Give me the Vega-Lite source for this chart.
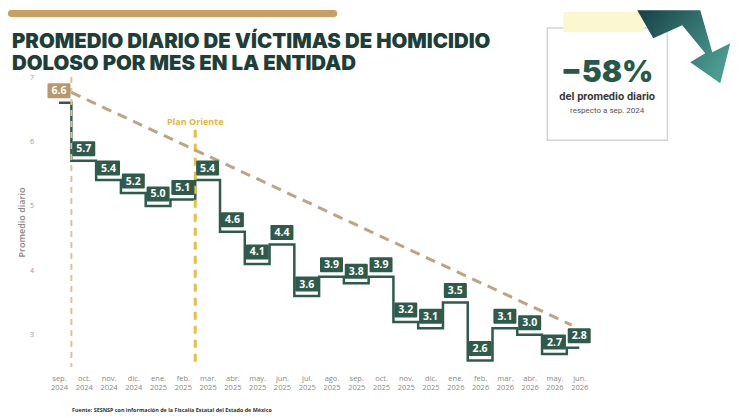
{
  "$schema": "https://vega.github.io/schema/vega-lite/v6.json",
  "width": 545,
  "height": 290,
  "autosize": {"type": "none"},
  "padding": {"left": 46.6, "top": 77, "right": 158.4, "bottom": 51},
  "background": "white",
  "config": {"view": {"stroke": null}, "font": "Open Sans"},
  "datasets": {
    "victimas": [
      {"i": 0, "mes": "sep. 2024", "valor": 6.6},
      {"i": 1, "mes": "oct. 2024", "valor": 5.7},
      {"i": 2, "mes": "nov. 2024", "valor": 5.4},
      {"i": 3, "mes": "dic. 2024", "valor": 5.2},
      {"i": 4, "mes": "ene. 2025", "valor": 5.0},
      {"i": 5, "mes": "feb. 2025", "valor": 5.1},
      {"i": 6, "mes": "mar. 2025", "valor": 5.4},
      {"i": 7, "mes": "abr. 2025", "valor": 4.6},
      {"i": 8, "mes": "may. 2025", "valor": 4.1},
      {"i": 9, "mes": "jun. 2025", "valor": 4.4},
      {"i": 10, "mes": "jul. 2025", "valor": 3.6},
      {"i": 11, "mes": "ago. 2025", "valor": 3.9},
      {"i": 12, "mes": "sep. 2025", "valor": 3.8},
      {"i": 13, "mes": "oct. 2025", "valor": 3.9},
      {"i": 14, "mes": "nov. 2025", "valor": 3.2},
      {"i": 15, "mes": "dic. 2025", "valor": 3.1},
      {"i": 16, "mes": "ene. 2026", "valor": 3.5},
      {"i": 17, "mes": "feb. 2026", "valor": 2.6},
      {"i": 18, "mes": "mar. 2026", "valor": 3.1},
      {"i": 19, "mes": "abr. 2026", "valor": 3.0},
      {"i": 20, "mes": "may. 2026", "valor": 2.7},
      {"i": 21, "mes": "jun. 2026", "valor": 2.8}
    ],
    "tendencia": [
      {"i": 0.5, "valor": 6.76},
      {"i": 20.7, "valor": 3.15}
    ],
    "titulo": [
      {"x": -1.9, "y": 7.45, "texto": "PROMEDIO DIARIO DE VÍCTIMAS DE HOMICIDIO"},
      {"x": -1.9, "y": 7.11, "texto": "DOLOSO POR MES EN LA ENTIDAD"}
    ]
  },
  "layer": [
    {
      "data": {"name": "victimas"},
      "mark": {"type": "line", "interpolate": "step", "color": "#2f5b4c", "strokeWidth": 2.5},
      "encoding": {
        "x": {
          "field": "i",
          "type": "quantitative",
          "title": null,
          "scale": {"domain": [-0.5, 21.5], "nice": false, "zero": false},
          "axis": {
            "title": null,
            "values": [0, 1, 2, 3, 4, 5, 6, 7, 8, 9, 10, 11, 12, 13, 14, 15, 16, 17, 18, 19, 20, 21],
            "tickCount": 30,
            "labelExpr": "split(['sep. 2024','oct. 2024','nov. 2024','dic. 2024','ene. 2025','feb. 2025','mar. 2025','abr. 2025','may. 2025','jun. 2025','jul. 2025','ago. 2025','sep. 2025','oct. 2025','nov. 2025','dic. 2025','ene. 2026','feb. 2026','mar. 2026','abr. 2026','may. 2026','jun. 2026'][datum.value], ' ')",
            "domain": false,
            "ticks": false,
            "grid": false,
            "labelFontSize": 7.5,
            "labelColor": "#8a8a8a",
            "labelPadding": 7,
            "labelLineHeight": 9,
            "labelBaseline": "top",
            "labelFlush": false,
            "labelOverlap": false
          }
        },
        "y": {
          "field": "valor",
          "type": "quantitative",
          "title": "Promedio diario",
          "scale": {"domain": [2.5, 7], "nice": false, "zero": false},
          "axis": {
            "title": "Promedio diario",
            "values": [3, 4, 5, 6, 7],
            "format": "d",
            "domain": false,
            "ticks": false,
            "grid": false,
            "labelFontSize": 7,
            "labelColor": "#999999",
            "labelPadding": 13,
            "titleFontSize": 9,
            "titleFontWeight": 600,
            "titleColor": "#8a8a8a",
            "titlePadding": 3
          }
        }
      }
    },
    {
      "data": {"values": [{"x": -2.06, "x2": 11.23, "y": 8.04, "y2": 7.93}]},
      "mark": {"type": "rect", "fill": "#c9a062", "cornerRadius": 3},
      "encoding": {
        "x": {"field": "x", "type": "quantitative", "scale": {"domain": [-0.5, 21.5], "nice": false, "zero": false}},
        "x2": {"field": "x2"},
        "y": {"field": "y", "type": "quantitative", "scale": {"domain": [2.5, 7], "nice": false, "zero": false}},
        "y2": {"field": "y2"}
      }
    },
    {
      "data": {"name": "titulo"},
      "mark": {"type": "text", "font": "Inter", "fontWeight": 900, "fontSize": 20.4, "color": "#1d3f37", "align": "left", "baseline": "alphabetic"},
      "encoding": {
        "x": {"field": "x", "type": "quantitative", "scale": {"domain": [-0.5, 21.5], "nice": false, "zero": false}},
        "y": {"field": "y", "type": "quantitative", "scale": {"domain": [2.5, 7], "nice": false, "zero": false}},
        "text": {"field": "texto"}
      }
    },
    {
      "data": {"values": [{"x": 19.71, "x2": 24.56, "y": 7.76, "y2": 6.02}]},
      "mark": {"type": "rect", "fill": "white", "stroke": "#d4d4d4", "strokeWidth": 1.5},
      "encoding": {
        "x": {"field": "x", "type": "quantitative", "scale": {"domain": [-0.5, 21.5], "nice": false, "zero": false}},
        "x2": {"field": "x2"},
        "y": {"field": "y", "type": "quantitative", "scale": {"domain": [2.5, 7], "nice": false, "zero": false}},
        "y2": {"field": "y2"}
      }
    },
    {
      "data": {"values": [{"x": 20.36, "x2": 23.59, "y": 8.01, "y2": 7.7}]},
      "mark": {"type": "rect", "fill": "#fbf7cf"},
      "encoding": {
        "x": {"field": "x", "type": "quantitative", "scale": {"domain": [-0.5, 21.5], "nice": false, "zero": false}},
        "x2": {"field": "x2"},
        "y": {"field": "y", "type": "quantitative", "scale": {"domain": [2.5, 7], "nice": false, "zero": false}},
        "y2": {"field": "y2"}
      }
    },
    {
      "data": {"values": [{"x": 25.22, "y": 7.47}]},
      "mark": {
        "type": "point",
        "filled": true,
        "opacity": 1,
        "size": 8649,
        "shape": "M-1,-0.785L-0.656,-0.183L-0.032,-0.462L0.462,0.14L0.14,0.333L0.785,0.785L1,-0.075L0.613,0.118L0.355,-0.785Z",
        "fill": {
          "gradient": "linear",
          "x1": 0, "y1": 0, "x2": 1, "y2": 0.6,
          "stops": [{"offset": 0, "color": "#173f44"}, {"offset": 1, "color": "#4b9b91"}]
        },
        "strokeWidth": 0
      },
      "encoding": {
        "x": {"field": "x", "type": "quantitative", "scale": {"domain": [-0.5, 21.5], "nice": false, "zero": false}},
        "y": {"field": "y", "type": "quantitative", "scale": {"domain": [2.5, 7], "nice": false, "zero": false}}
      }
    },
    {
      "data": {"values": [{"x": 22.13, "y": 6.92, "texto": "−58%"}]},
      "mark": {"type": "text", "font": "Inter", "fontWeight": 900, "fontSize": 30, "color": "#27594a", "align": "center", "baseline": "alphabetic"},
      "encoding": {
        "x": {"field": "x", "type": "quantitative", "scale": {"domain": [-0.5, 21.5], "nice": false, "zero": false}},
        "y": {"field": "y", "type": "quantitative", "scale": {"domain": [2.5, 7], "nice": false, "zero": false}},
        "text": {"field": "texto"}
      }
    },
    {
      "data": {"values": [{"x": 22.13, "y": 6.64, "texto": "del promedio diario"}]},
      "mark": {"type": "text", "font": "Liberation Sans Narrow, Roboto", "fontWeight": "bold", "fontSize": 11, "color": "#3a3a3a", "align": "center", "baseline": "alphabetic"},
      "encoding": {
        "x": {"field": "x", "type": "quantitative", "scale": {"domain": [-0.5, 21.5], "nice": false, "zero": false}},
        "y": {"field": "y", "type": "quantitative", "scale": {"domain": [2.5, 7], "nice": false, "zero": false}},
        "text": {"field": "texto"}
      }
    },
    {
      "data": {"values": [{"x": 22.13, "y": 6.44, "texto": "respecto a sep. 2024"}]},
      "mark": {"type": "text", "font": "Liberation Sans Narrow, Roboto", "fontSize": 8, "color": "#555555", "align": "center", "baseline": "alphabetic"},
      "encoding": {
        "x": {"field": "x", "type": "quantitative", "scale": {"domain": [-0.5, 21.5], "nice": false, "zero": false}},
        "y": {"field": "y", "type": "quantitative", "scale": {"domain": [2.5, 7], "nice": false, "zero": false}},
        "text": {"field": "texto"}
      }
    },
    {
      "data": {"values": [{"x": 0.5, "y": 7, "y2": 2.5}]},
      "mark": {"type": "rule", "color": "#d6c49c", "strokeWidth": 2, "strokeDash": [6, 5]},
      "encoding": {
        "x": {"field": "x", "type": "quantitative", "scale": {"domain": [-0.5, 21.5], "nice": false, "zero": false}},
        "y": {"field": "y", "type": "quantitative", "scale": {"domain": [2.5, 7], "nice": false, "zero": false}},
        "y2": {"field": "y2"}
      }
    },
    {
      "data": {"values": [{"x": 5.5, "y": 6.18, "y2": 2.5}]},
      "mark": {"type": "rule", "color": "#e6bf45", "strokeWidth": 3, "strokeDash": [8, 6]},
      "encoding": {
        "x": {"field": "x", "type": "quantitative", "scale": {"domain": [-0.5, 21.5], "nice": false, "zero": false}},
        "y": {"field": "y", "type": "quantitative", "scale": {"domain": [2.5, 7], "nice": false, "zero": false}},
        "y2": {"field": "y2"}
      }
    },
    {
      "data": {"values": [{"x": 5.5, "y": 6.3, "texto": "Plan Oriente"}]},
      "mark": {"type": "text", "fontWeight": "bold", "fontSize": 9, "color": "#e2b73e", "align": "center", "baseline": "middle"},
      "encoding": {
        "x": {"field": "x", "type": "quantitative", "scale": {"domain": [-0.5, 21.5], "nice": false, "zero": false}},
        "y": {"field": "y", "type": "quantitative", "scale": {"domain": [2.5, 7], "nice": false, "zero": false}},
        "text": {"field": "texto"}
      }
    },
    {
      "data": {"name": "tendencia"},
      "mark": {"type": "line", "color": "#bca682", "strokeWidth": 3, "strokeDash": [10, 7]},
      "encoding": {
        "x": {"field": "i", "type": "quantitative", "scale": {"domain": [-0.5, 21.5], "nice": false, "zero": false}},
        "y": {"field": "valor", "type": "quantitative", "scale": {"domain": [2.5, 7], "nice": false, "zero": false}}
      }
    },
    {
      "data": {"name": "victimas"},
      "mark": {
        "type": "point",
        "filled": true,
        "opacity": 1,
        "size": 441,
        "shape": "M-1,-0.62L1,-0.62L1,0.62L-1,0.62Z",
        "strokeWidth": 2,
        "strokeJoin": "round",
        "yOffset": -12
      },
      "encoding": {
        "x": {"field": "i", "type": "quantitative", "scale": {"domain": [-0.5, 21.5], "nice": false, "zero": false}},
        "y": {"field": "valor", "type": "quantitative", "scale": {"domain": [2.5, 7], "nice": false, "zero": false}},
        "fill": {"condition": {"test": "datum.i === 0", "value": "#b8996a"}, "value": "#2f5b4c"},
        "stroke": {"condition": {"test": "datum.i === 0", "value": "#b8996a"}, "value": "#2f5b4c"}
      }
    },
    {
      "data": {"name": "victimas"},
      "mark": {"type": "text", "fontWeight": "bold", "fontSize": 10.5, "color": "white", "align": "center", "baseline": "middle", "yOffset": -11.5},
      "encoding": {
        "x": {"field": "i", "type": "quantitative", "scale": {"domain": [-0.5, 21.5], "nice": false, "zero": false}},
        "y": {"field": "valor", "type": "quantitative", "scale": {"domain": [2.5, 7], "nice": false, "zero": false}},
        "text": {"field": "valor", "type": "quantitative", "format": ".1f"}
      }
    },
    {
      "data": {"values": [{"x": 0.525, "y": 1.84, "texto": "Fuente: SESNSP con información de la Fiscalía Estatal del Estado de México"}]},
      "mark": {"type": "text", "fontWeight": "bold", "fontSize": 5.4, "color": "#333333", "align": "left", "baseline": "middle"},
      "encoding": {
        "x": {"field": "x", "type": "quantitative", "scale": {"domain": [-0.5, 21.5], "nice": false, "zero": false}},
        "y": {"field": "y", "type": "quantitative", "scale": {"domain": [2.5, 7], "nice": false, "zero": false}},
        "text": {"field": "texto"}
      }
    }
  ]
}
